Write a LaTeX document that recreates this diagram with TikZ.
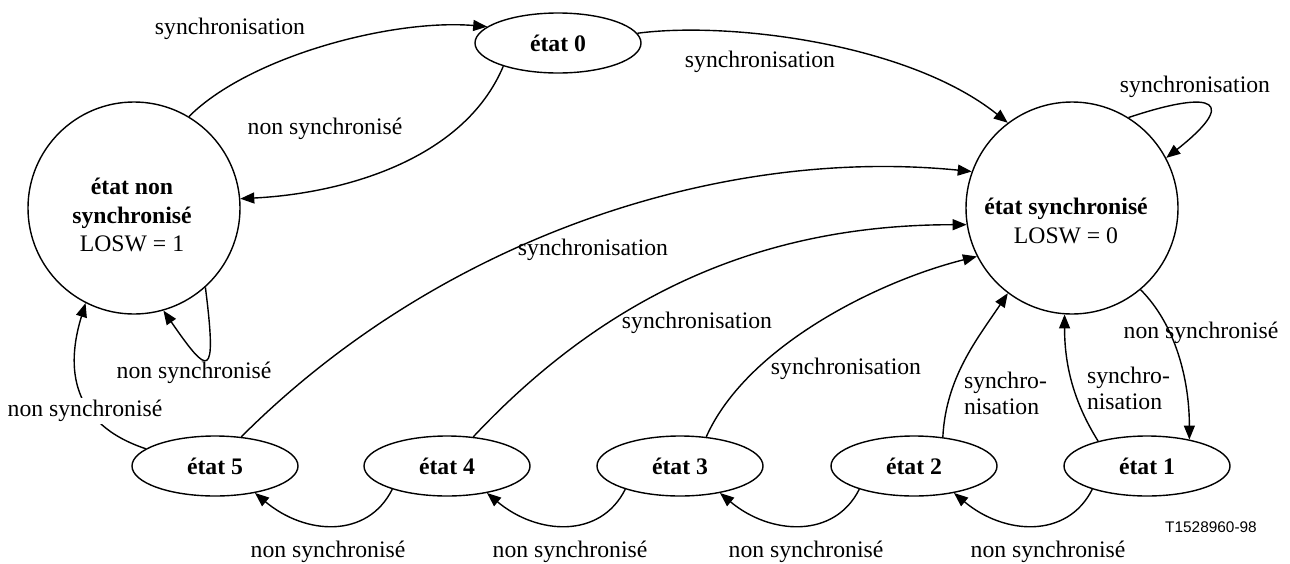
\documentclass[tikz,border=0pt]{standalone}
\usepackage{fontspec}
\setmainfont{Liberation Serif}
\newfontfamily\figsans{Liberation Sans}
\usetikzlibrary{arrows.meta,shapes.geometric}
\begin{document}
\begin{tikzpicture}[x=0.5pt,y=-0.5pt,
  every node/.style={font=\fontsize{11.85}{13.4}\selectfont},
  state/.style={draw, ellipse, line width=0.7pt, minimum width=83pt,
    minimum height=30pt, inner sep=0pt,
    font=\fontsize{11.85}{13.4}\selectfont\bfseries},
  bigstate/.style={draw, circle, line width=0.7pt, minimum size=106pt, inner sep=0pt},
  bigtext/.style={align=center, inner sep=0pt, font=\fontsize{11.85}{14.15}\selectfont},
  trans/.style={line width=0.7pt, -{Triangle[length=7pt,width=5.5pt]}},
  lbl/.style={inner sep=1pt},
  split/.style={align=left, inner sep=0pt, font=\fontsize{11.85}{13.35}\selectfont},
]
\useasboundingbox (0,0) rectangle (1290,563);

% states
\node[state] (n0) at (558,43) {état 0};
\node[bigstate] (ns) at (134,208) {};
\node[bigstate] (sy) at (1072,208) {};
\node[bigtext] (nstext) at (132,215) {\textbf{état non}\\\textbf{synchronisé}\\LOSW = 1};
\node[bigtext] (sytext) at (1066,221) {\textbf{état synchronisé}\\LOSW = 0};
\node[state] (e5) at (215,466) {état 5};
\node[state] (e4) at (447,466) {état 4};
\node[state] (e3) at (680,466) {état 3};
\node[state] (e2) at (914,466) {état 2};
\node[state] (e1) at (1147,466) {état 1};

% transitions around the upper part
\draw[trans] (ns.59) .. controls +(60,-60) and +(-95,-8) .. (n0.167);
\draw[trans] (n0.203) .. controls +(-40,95) and +(100,-5) .. (ns.5);
\draw[trans] (n0.7) .. controls +(90,-12) and +(-100,-80) .. (sy.127);
\draw[trans] (sy.58) .. controls +(90,-30) and +(70,-55) .. (sy.28);
\draw[trans] (ns.312) .. controls +(12,95) and +(45,65) .. (ns.286);

% transitions from the lower states back to the synchronised state
\draw[trans] (e5.48) .. controls +(200,-200) and +(-250,-25) .. (sy.160);
\draw[trans] (e4.48) .. controls +(150,-160) and +(-180,0) .. (sy.189);
\draw[trans] (e3.48) .. controls +(40,-90) and +(-100,25) .. (sy.207);
\draw[trans] (e2.45) .. controls +(3,-60) and +(-30,45) .. (sy.233);
\draw[trans] (e1.153) .. controls +(-25,-40) and +(0,50) .. (sy.266);
\draw[trans] (sy.310) .. controls +(35,35) and +(0,-60) .. (e1.32);

% chain of lost-synchronisation steps
\draw[trans] (e1.203) .. controls +(-25,50) and +(50,42) .. (e2.326);
\draw[trans] (e2.203) .. controls +(-25,50) and +(50,42) .. (e3.326);
\draw[trans] (e3.203) .. controls +(-25,50) and +(50,42) .. (e4.326);
\draw[trans] (e4.203) .. controls +(-25,50) and +(50,42) .. (e5.326);
\draw[trans] (e5.166) .. controls +(-75,-25) and +(-20,65) .. (ns.243);

% transition labels
\node[lbl] (l1) at (230,29) {synchronisation};
\node[lbl] (l2) at (325,129) {non synchronisé};
\node[lbl] (l3) at (760,62) {synchronisation};
\node[lbl] (l4) at (1195,87) {synchronisation};
\node[lbl] (l5) at (593,250) {synchronisation};
\node[lbl] (l6) at (697,323) {synchronisation};
\node[lbl] (l7) at (846,369) {synchronisation};
\node[split] (l8) at (1005.5,393.5) {synchro-\\nisation};
\node[split] (l9) at (1128.5,388.5) {synchro-\\nisation};
\node[lbl] (l10) at (1201,333) {non synchronisé};
\node[lbl] (l11) at (194,373) {non synchronisé};
\node[lbl, fill=white] (l12) at (85,411) {non synchronisé};
\node[lbl] (l13) at (328,552) {non synchronisé};
\node[lbl] (l14) at (570,552) {non synchronisé};
\node[lbl] (l15) at (806,552) {non synchronisé};
\node[lbl] (l16) at (1048,552) {non synchronisé};

\node[font=\figsans\fontsize{7.7}{9}\selectfont] (ref) at (1211,527) {T1528960-98};
\end{tikzpicture}
\end{document}
